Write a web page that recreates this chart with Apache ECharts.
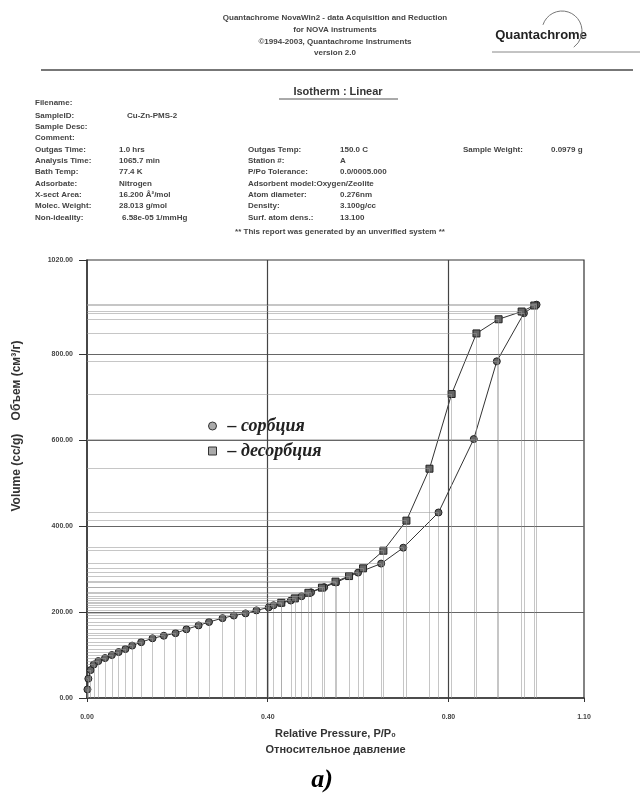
<!DOCTYPE html>
<html><head><meta charset="utf-8">
<script src="https://cdn.jsdelivr.net/npm/echarts@6/dist/echarts.min.js"></script>
<style>html,body{margin:0;padding:0;background:#fff}#c{width:642px;height:801px}</style>
</head><body><div id="c"></div>
<script>
// Data
var adsX = [0.001,0.003,0.008,0.015,0.025,0.040,0.055,0.070,0.085,0.100,0.120,0.145,0.170,0.196,0.220,0.247,0.270,0.300,0.325,0.351,0.375,0.402,0.413,0.430,0.451,0.475,0.496,0.525,0.551,0.600,0.651,0.700,0.778,0.856,0.907,0.967,0.995];
var adsY = [20,45,65,78,86,93,100,107,114,122,130,139,145,151,160,169,177,186,192,197,204,211,216,221,227,237,246,258,269,292,313,350,432,603,784,896,916];
var desX = [0.990,0.962,0.911,0.862,0.807,0.758,0.707,0.656,0.611,0.580,0.550,0.520,0.490,0.460,0.430];
var desY = [914,900,882,849,708,534,413,343,302,284,271,257,245,232,222];
var yTicks = [0,200,400,600,800,1020];
var xTicks = [0,0.4,0.8,1.1];
var seriesNames = ['сорбция','десорбция'];

function pairs(xs, ys){ return xs.map(function(x,i){return [x, ys[i]];}); }
function dropLines(xs, ys){
  var out = [];
  xs.forEach(function(x,i){
    out.push([{coord:[x,0]},{coord:[x,ys[i]]}]);
    out.push([{coord:[0,ys[i]]},{coord:[x,ys[i]]}]);
  });
  return out;
}
var gridLinesY = yTicks.slice(1,-1).map(function(v){return {yAxis:v};});
var gridLinesX = xTicks.slice(1,-1).map(function(v){return {xAxis:v};});

var hdr = {fontFamily:'Liberation Sans', fontWeight:'bold', fontSize:8, fill:'#444'};
function T(x,y,text,extra){ var s = Object.assign({}, hdr, {text:text}, extra||{}); return {type:'text', left:x, top:y, style:s}; }
function TC(x,y,text,extra){ var s = Object.assign({}, hdr, {text:text, x:x, y:y, align:'center', verticalAlign:'middle'}, extra||{}); return {type:'text', style:s}; }

var graphics = [
  TC(335,18,'Quantachrome NovaWin2 - data Acquisition and Reduction'),
  TC(335,30,'for NOVA instruments'),
  TC(335,42,'©1994-2003, Quantachrome Instruments'),
  TC(335,53,'version 2.0'),
  TC(541,35,'Quantachrome',{fontSize:13,fill:'#222'}),
  {type:'arc', shape:{cx:562,cy:31,r:20,startAngle:-Math.PI*0.9,endAngle:Math.PI*0.3}, style:{stroke:'#777',lineWidth:1,fill:null}},
  {type:'line', shape:{x1:492,y1:52,x2:640,y2:52}, style:{stroke:'#888',lineWidth:1}},
  {type:'line', shape:{x1:41,y1:70,x2:633,y2:70}, style:{stroke:'#777',lineWidth:2}},
  TC(338,92,'Isotherm : Linear',{fontSize:11,fill:'#333'}),
  {type:'line', shape:{x1:279,y1:99,x2:398,y2:99}, style:{stroke:'#555',lineWidth:1}},
  T(35,99,'Filename:'),
  T(35,112,'SampleID:'), T(127,112,'Cu-Zn-PMS-2'),
  T(35,123,'Sample Desc:'),
  T(35,134,'Comment:'),
  T(35,146,'Outgas Time:'), T(119,146,'1.0 hrs'),
  T(35,157,'Analysis Time:'), T(119,157,'1065.7 min'),
  T(35,168,'Bath Temp:'), T(119,168,'77.4 K'),
  T(35,180,'Adsorbate:'), T(119,180,'Nitrogen'),
  T(35,191,'X-sect Area:'), T(119,191,'16.200 Å²/mol'),
  T(35,202,'Molec. Weight:'), T(119,202,'28.013 g/mol'),
  T(35,214,'Non-ideality:'), T(122,214,'6.58e-05 1/mmHg'),
  T(248,146,'Outgas Temp:'), T(340,146,'150.0 C'),
  T(248,157,'Station #:'), T(340,157,'A'),
  T(248,168,'P/Po Tolerance:'), T(340,168,'0.0/0005.000'),
  T(248,180,'Adsorbent model:Oxygen/Zeolite'),
  T(248,191,'Atom diameter:'), T(340,191,'0.276nm'),
  T(248,202,'Density:'), T(340,202,'3.100g/cc'),
  T(248,214,'Surf. atom dens.:'), T(340,214,'13.100'),
  T(463,146,'Sample Weight:'), T(551,146,'0.0979 g'),
  TC(340,232,'** This report was generated by an unverified system **'),
  {type:'text', x:17, y:426, rotation:Math.PI/2, style:{text:'Volume (cc/g)    Объем (см³/г)', align:'center', verticalAlign:'middle', fontFamily:'Liberation Sans', fontWeight:'bold', fontSize:12, fill:'#333'}},
  TC(322,780,'a)',{fontFamily:'Liberation Serif',fontStyle:'italic',fontSize:26,fill:'#000'})
];

var chart = echarts.init(document.getElementById('c'), null, {renderer:'canvas'});
chart.setOption({
  backgroundColor:'#fff',
  animation:false,
  graphic: graphics,
  grid:{left:87, right:58, top:260, bottom:103, show:true, borderColor:'#333', borderWidth:1.2},
  legend:{
    orient:'vertical', left:203, top:412, itemGap:7, itemWidth:8, itemHeight:8,
    data: [{name:seriesNames[0], icon:'circle'},{name:seriesNames[1], icon:'rect'}],
    itemStyle:{color:'#aaa', borderColor:'#333', borderWidth:1},
    formatter:function(n){return '– ' + n;},
    textStyle:{fontFamily:'Liberation Serif', fontStyle:'italic', fontWeight:'bold', fontSize:18, color:'#222', padding:[0,0,0,6]}
  },
  xAxis:{
    type:'value', min:0, max:1.1, interval:0.1,
    name:'Relative Pressure, P/P\u2080\nОтносительное давление', nameLocation:'middle', nameGap:27,
    nameTextStyle:{fontFamily:'Liberation Sans', fontWeight:'bold', fontSize:11, color:'#333', lineHeight:16},
    axisLine:{lineStyle:{color:'#333', width:1.5}},
    axisTick:{show:true, customValues:xTicks, length:4, lineStyle:{color:'#333'}},
    axisLabel:{customValues:xTicks, formatter:function(v){return v.toFixed(2);}, margin:16,
      fontFamily:'Liberation Sans', fontWeight:'bold', fontSize:7, color:'#444'},
    splitLine:{show:false}
  },
  yAxis:{
    type:'value', min:0, max:1020, interval:200,
    axisLine:{lineStyle:{color:'#333', width:1.5}},
    axisTick:{show:true, customValues:yTicks, length:8, lineStyle:{color:'#333'}},
    axisLabel:{customValues:yTicks, formatter:function(v){return v.toFixed(2);}, margin:14,
      fontFamily:'Liberation Sans', fontWeight:'bold', fontSize:7, color:'#444'},
    splitLine:{show:false}
  },
  series:[
    {
      name:seriesNames[0], type:'line', data:pairs(adsX,adsY),
      symbol:'circle', symbolSize:7,
      lineStyle:{color:'#333', width:1},
      itemStyle:{color:'#666', borderColor:'#222', borderWidth:1},
      markLine:{
        silent:true, symbol:['none','none'], label:{show:false},
        lineStyle:{color:'#999', width:0.8, type:'solid', opacity:0.7},
        data: dropLines(adsX, adsY).concat(gridLinesY.map(function(g){return Object.assign({lineStyle:{color:'#666',width:1,type:'solid',opacity:1}}, g);}), gridLinesX.map(function(g){return Object.assign({lineStyle:{color:'#444',width:1.2,type:'solid',opacity:1}}, g);}))
      },
      z:3
    },
    {
      name:seriesNames[1], type:'line', data:pairs(desX,desY),
      symbol:'rect', symbolSize:7,
      lineStyle:{color:'#333', width:1},
      itemStyle:{color:'#666', borderColor:'#222', borderWidth:1},
      markLine:{
        silent:true, symbol:['none','none'], label:{show:false},
        lineStyle:{color:'#999', width:0.8, type:'solid', opacity:0.7},
        data: dropLines(desX, desY)
      },
      z:3
    }
  ]
});
</script>
</body></html>
